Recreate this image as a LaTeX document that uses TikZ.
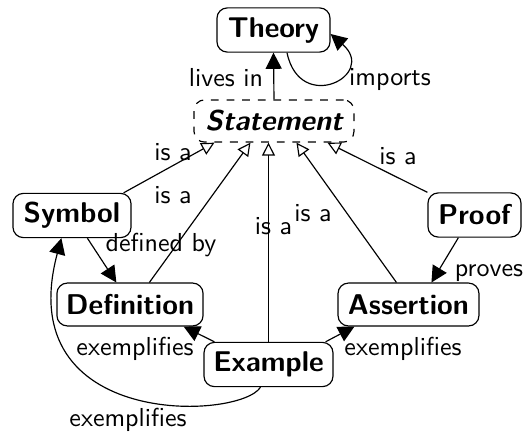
\documentclass[tikz,border=0pt]{standalone}
\usetikzlibrary{arrows.meta,calc}
\begin{document}
\begin{tikzpicture}[x=0.3846pt,y=-0.3846pt, font=\sffamily, line width=0.45pt,
  box/.style={draw, rounded corners=4pt, inner sep=0pt, font=\sffamily\bfseries\fontsize{11}{13}\selectfont, minimum height=17pt},
  lbl/.style={font=\sffamily, inner sep=0pt},
  arr/.style={-{Triangle[length=6.2pt,width=6.2pt]}},
  isa/.style={-{Triangle[open,length=5pt,width=5pt]}}]
\useasboundingbox (0,0) rectangle (531,432);
% nodes
\node[box, minimum width=43.5pt] (theory) at (273.5,30) {Theory};
\node[box, dashed, minimum width=61.5pt, minimum height=16.2pt, font=\sffamily\bfseries\itshape\fontsize{11}{13}\selectfont] (stmt) at (274,121) {Statement};
\node[box, minimum width=45.4pt] (symbol) at (72,215.5) {Symbol};
\node[box, minimum width=35.8pt] (proof) at (474.5,215) {Proof};
\node[box, minimum width=56.2pt, minimum height=16.5pt] (definition) at (130,304.5) {Definition};
\node[box, minimum width=54.2pt, minimum height=16.5pt] (assertion) at (408.5,304.5) {Assertion};
\node[box, minimum width=49.6pt] (example) at (268.5,364.5) {Example};
% connectors
\draw[arr] (stmt.north) -- (theory.south) node[lbl] at (226,78) {lives in};
\draw[arr] ($(theory.south)+(13.5,0)$) .. controls (300,115) and (378,75) .. ($(theory.east)+(0,4)$)
  node[lbl] at (390,79) {imports};
\draw[isa] ($(symbol.north east)+(-8,0)$) -- ($(stmt.south west)+(21,0)$) node[lbl] at (173,152) {is a};
\draw[isa] ($(definition.north west)+(93,0)$) -- ($(stmt.south west)+(57,0)$) node[lbl] at (173,195) {is a};
\draw[isa] (example.north) -- (example.north |- stmt.south) node[lbl] at (273.5,226) {is a};
\draw[isa] ($(assertion.north west)+(59,0)$) -- ($(stmt.south west)+(103,0)$) node[lbl] at (313,213) {is a};
\draw[isa] (proof.north west) -- ($(stmt.south west)+(134,0)$) node[lbl] at (398,156) {is a};
\draw[arr] ($(symbol.south west)+(75,0)$) -- ($(definition.north west)+(60,0)$) node[lbl] at (161,245) {defined by};
\draw[arr] ($(proof.south west)+(31,0)$) -- ($(assertion.north west)+(94,0)$) node[lbl] at (489,273) {proves};
\draw[arr] ($(example.north west)+(11,0)$) -- ($(definition.south east)+(-20,0)$) node[lbl] at (135,349) {exemplifies};
\draw[arr] ($(example.north east)+(-8,0)$) -- ($(assertion.south west)+(17,0)$) node[lbl] at (403,349) {exemplifies};
\draw[arr] ($(example.south)+(-8,0)$) .. controls (240,420) and (10,430) .. ($(symbol.south west)+(49,0)$)
  node[lbl] at (128,420) {exemplifies};
\end{tikzpicture}
\end{document}
